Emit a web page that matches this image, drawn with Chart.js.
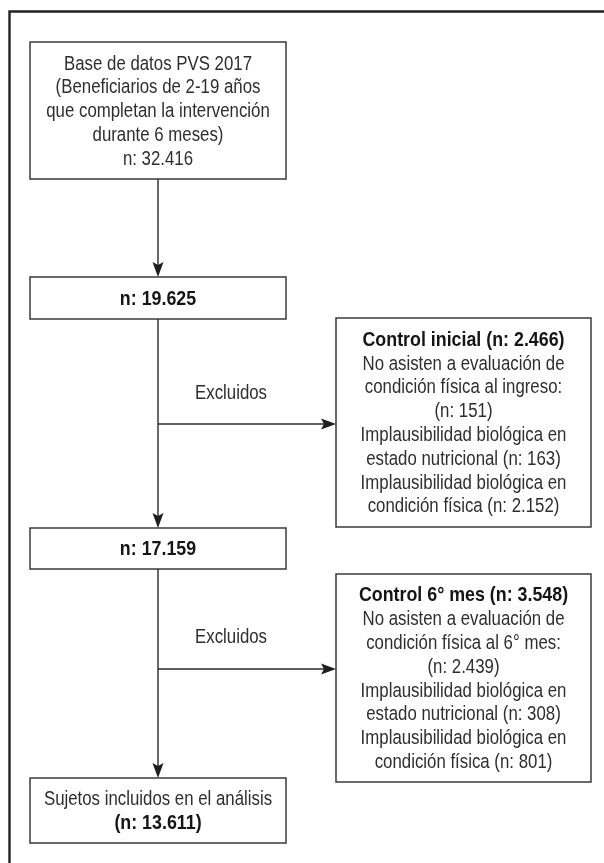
<!DOCTYPE html>
<html>
<head>
<meta charset="utf-8">
<script src="https://cdn.jsdelivr.net/npm/chart.js@4.4.1/dist/chart.umd.min.js"></script>
<style>
  html, body { margin: 0; padding: 0; background: #fff; }
  #flow { display: block; }
</style>
</head>
<body>
<canvas id="flow" width="604" height="863"></canvas>
<script>
// ======================== DATOS ========================
const totalBase = '32.416';
const afterFirst = '19.625';
const afterSecond = '17.159';
const finalN = '13.611';

const box1Lines = ['Base de datos PVS 2017', '(Beneficiarios de 2-19 años', 'que completan la intervención', 'durante 6 meses)', 'n: ' + totalBase];
const excl1Title = 'Control inicial (n: 2.466)';
const excl1Lines = ['No asisten a evaluación de', 'condición física al ingreso:', '(n: 151)', 'Implausibilidad biológica en', 'estado nutricional (n: 163)', 'Implausibilidad biológica en', 'condición física (n: 2.152)'];
const excl2Title = 'Control 6° mes (n: 3.548)';
const excl2Lines = ['No asisten a evaluación de', 'condición física al 6° mes:', '(n: 2.439)', 'Implausibilidad biológica en', 'estado nutricional (n: 308)', 'Implausibilidad biológica en', 'condición física (n: 801)'];
const finalLines = ['Sujetos incluidos en el análisis'];
const exclLabel = 'Excluidos';

// ======================== LAYOUT (unidades de escala) ========================
const FONT = "'Liberation Sans Narrow', 'Liberation Sans', Arial, sans-serif";
const FONT_SIZE = 20.5;
const LINE_H = 23.8;

const boxes = [
  { x0: 30, x1: 286, y0: 42, y1: 179, lines: box1Lines.map(t => ({ t, bold: false })) },
  { x0: 30, x1: 286, y0: 277, y1: 319, lines: [{ t: 'n: ' + afterFirst, bold: true }] },
  { x0: 336, x1: 591, y0: 318, y1: 527, lines: [{ t: excl1Title, bold: true }].concat(excl1Lines.map(t => ({ t, bold: false }))) },
  { x0: 30, x1: 286, y0: 528, y1: 569, lines: [{ t: 'n: ' + afterSecond, bold: true }] },
  { x0: 336, x1: 591, y0: 574, y1: 782, lines: [{ t: excl2Title, bold: true }].concat(excl2Lines.map(t => ({ t, bold: false }))) },
  { x0: 30, x1: 286, y0: 778, y1: 843, lines: finalLines.map(t => ({ t, bold: false })).concat([{ t: '(n: ' + finalN + ')', bold: true }]) }
];
const mainX = 158;
const downArrows = [[179, 277], [319, 528], [569, 778]];
const sideArrows = [{ y: 424, x1: 336, labelY: 393 }, { y: 669, x1: 336, labelY: 637 }];
const labelX = 231;

// ======================== PLUGIN DE DIBUJO ========================
const flowPlugin = {
  id: 'flow',
  afterDraw(chart) {
    const ctx = chart.ctx;
    const xs = chart.scales.x, ys = chart.scales.y;
    const px = v => xs.getPixelForValue(v);
    const py = v => ys.getPixelForValue(v);

    ctx.save();
    // marco exterior
    ctx.strokeStyle = '#222';
    ctx.lineWidth = 2.4;
    ctx.beginPath();
    ctx.moveTo(px(9.5), py(863));
    ctx.lineTo(px(9.5), py(11.5));
    ctx.lineTo(px(604), py(11.5));
    ctx.stroke();

    // factor de condensado para imitar Helvetica Condensed
    ctx.font = `${FONT_SIZE}px ${FONT}`;
    const sxReg = 188 / ctx.measureText(box1Lines[0]).width;
    ctx.font = `bold ${FONT_SIZE}px ${FONT}`;
    const sxBold = 202 / ctx.measureText(excl1Title).width;

    function text(t, cx, cy, bold) {
      ctx.save();
      ctx.font = `${bold ? 'bold ' : ''}${FONT_SIZE}px ${FONT}`;
      ctx.fillStyle = bold ? '#151515' : '#2e2e2e';
      ctx.textAlign = 'center';
      ctx.textBaseline = 'middle';
      ctx.translate(cx, cy);
      ctx.scale(bold ? sxBold : sxReg, 1);
      ctx.fillText(t, 0, 0);
      ctx.restore();
    }

    // cajas
    boxes.forEach(b => {
      ctx.strokeStyle = '#3a3a3a';
      ctx.lineWidth = 1.5;
      ctx.strokeRect(px(b.x0), py(b.y0), px(b.x1) - px(b.x0), py(b.y1) - py(b.y0));
      const cx = (px(b.x0) + px(b.x1)) / 2;
      const cy = (py(b.y0) + py(b.y1)) / 2;
      const n = b.lines.length;
      b.lines.forEach((l, i) => text(l.t, cx, cy + (i - (n - 1) / 2) * LINE_H + 1, l.bold));
    });

    function head(x, y, dir) {
      // punta de flecha con base cóncava
      const L = 15, W = 5.5;
      ctx.save();
      ctx.translate(x, y);
      ctx.rotate(dir);
      ctx.fillStyle = '#1e1e1e';
      ctx.beginPath();
      ctx.moveTo(0, 0);
      ctx.lineTo(-L, -W);
      ctx.lineTo(-L + 3, 0);
      ctx.lineTo(-L, W);
      ctx.closePath();
      ctx.fill();
      ctx.restore();
    }

    ctx.strokeStyle = '#2a2a2a';
    ctx.lineWidth = 1.4;
    downArrows.forEach(([a, b]) => {
      ctx.beginPath();
      ctx.moveTo(px(mainX), py(a));
      ctx.lineTo(px(mainX), py(b) - 6);
      ctx.stroke();
      head(px(mainX), py(b), Math.PI / 2);
    });
    sideArrows.forEach(s => {
      ctx.beginPath();
      ctx.moveTo(px(mainX), py(s.y));
      ctx.lineTo(px(s.x1) - 6, py(s.y));
      ctx.stroke();
      head(px(s.x1), py(s.y), 0);
      text(exclLabel, px(labelX), py(s.labelY), false);
    });
    ctx.restore();
  }
};

// ======================== GRÁFICO ========================
new Chart(document.getElementById('flow'), {
  type: 'scatter',
  data: { datasets: [{ data: [], pointRadius: 0 }] },
  options: {
    responsive: false,
    animation: false,
    devicePixelRatio: 1,
    layout: { padding: 0 },
    plugins: { legend: { display: false }, tooltip: { enabled: false } },
    scales: {
      x: { type: 'linear', min: 0, max: 604, display: false },
      y: { type: 'linear', min: 0, max: 863, reverse: true, display: false }
    }
  },
  plugins: [flowPlugin]
});
</script>
</body>
</html>
